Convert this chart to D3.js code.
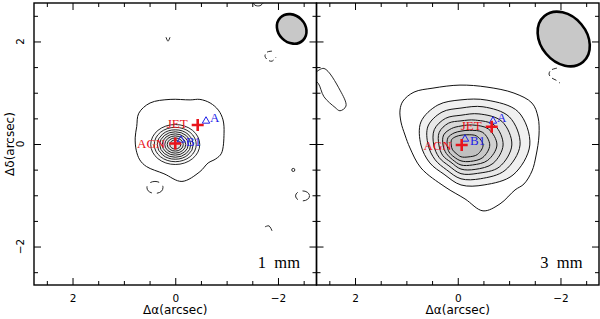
<!DOCTYPE html>
<html>
<head>
<meta charset="utf-8">
<script src="https://cdn.jsdelivr.net/npm/d3@7"></script>
<style>
  body { margin: 0; background: #fff; }
</style>
</head>
<body>
<div id="chart"></div>
<script>
//////////DATA (arcsec)//////////
const axisDomain = [2.75, -2.75];
const majorTicks = [2, 0, -2];
const minorTicks = [2.5, 1.5, 1, 0.5, -0.5, -1, -1.5, -2.5];
const panelLabels = ["1 mm", "3 mm"];

// 1 mm : lowest contour, traced
const mm1Outer = [
  [0.75, 0.34], [0.78, 0.12], [0.76, -0.12], [0.69, -0.31], [0.56, -0.44],
  [0.22, -0.58], [-0.13, -0.73], [-0.48, -0.54], [-0.64, -0.37], [-0.79, -0.29],
  [-0.9, -0.18], [-0.95, 0.21], [-0.93, 0.47], [-0.84, 0.66], [-0.68, 0.8],
  [-0.48, 0.87], [-0.29, 0.86], [0.1, 0.87], [0.49, 0.8], [0.71, 0.6],
];
// 1 mm : compact core, near-elliptical rings
const mm1Center = [0.0, -0.01];
const mm1RingRx = [0.477, 0.409, 0.35, 0.302, 0.253, 0.204, 0.156, 0.107];
const mm1RingRy = [0.39, 0.335, 0.287, 0.248, 0.207, 0.168, 0.128, 0.088];
const mm1RingFill = ["#fafafa", "#f6f6f6", "#f2f2f2", "#eeeeee", "#eaeaea", "#e6e6e6", "#e2e2e2", "#dedede"];

// 3 mm : lowest contour, traced
const mm3Outer = [
  [1.124, 0.662], [1.105, 0.428], [1.027, 0.175], [0.93, -0.078], [0.716, -0.467],
  [0.248, -0.837], [-0.141, -1.071], [-0.492, -1.304], [-0.823, -1.168], [-1.115, -0.896],
  [-1.29, -0.779], [-1.446, -0.526], [-1.523, -0.234], [-1.582, 0.175], [-1.563, 0.526],
  [-1.446, 0.798], [-1.095, 0.993], [-0.569, 1.11], [-0.044, 1.149], [0.482, 1.09],
  [0.852, 1.012], [1.066, 0.837],
];
// 3 mm : inner contours as radii (arcsec) at fixed bearings from a centre
const mm3Center = [-0.063, -0.019];
const mm3Bearings = [0, 30, 60, 90, 120, 150, 180, 210, 240, 270, 300, 330];
const mm3Radii = [
  [1.34, 1.29, 1.01, 0.88, 0.9, 0.9, 0.78, 0.7, 0.66, 0.78, 0.9, 1.17],
  [1.15, 1.09, 0.86, 0.72, 0.74, 0.74, 0.64, 0.58, 0.56, 0.66, 0.76, 0.99],
  [0.99, 0.92, 0.7, 0.58, 0.6, 0.6, 0.53, 0.49, 0.47, 0.56, 0.64, 0.86],
  [0.82, 0.76, 0.56, 0.47, 0.49, 0.49, 0.43, 0.41, 0.39, 0.47, 0.55, 0.72],
  [0.7, 0.62, 0.45, 0.37, 0.37, 0.39, 0.35, 0.33, 0.33, 0.39, 0.45, 0.6],
  [0.56, 0.49, 0.33, 0.27, 0.27, 0.29, 0.27, 0.27, 0.27, 0.31, 0.37, 0.49],
  [0.43, 0.35, 0.23, 0.19, 0.19, 0.21, 0.19, 0.19, 0.19, 0.23, 0.27, 0.37],
];
const mm3Fill = ["#f0f0f0", "#e8e8e8", "#e0e0e0", "#d8d8d8", "#d0d0d0", "#c8c8c8", "#c0c0c0"];

// extra small contours [points, dashed]
const mm1Extra = [
  [[[0.18, 2.083], [0.141, 2.005], [0.102, 2.083]], false],
  [[[-1.514, 2.765], [-1.553, 2.706], [-1.65, 2.697], [-1.708, 2.745]], false],
  [[[-1.884, 1.811], [-1.786, 1.791], [-1.747, 1.713], [-1.806, 1.635], [-1.884, 1.616], [-1.962, 1.694]], true],
  [[[-1.747, -1.616], [-1.825, -1.597], [-1.884, -1.694]], false],
];
const mm3Extra = [
  [[[2.76, 1.4], [2.604, 1.474], [2.293, 1.051], [2.176, 0.74], [2.293, 0.648],
    [2.391, 0.715], [2.604, 0.921], [2.715, 1.182], [2.8, 1.25]], false],
  [[[-1.932, 1.48], [-1.816, 1.441], [-1.777, 1.363], [-1.835, 1.285], [-1.913, 1.246], [-1.991, 1.187]], true],
];
// small dashed/closed blobs [alpha, delta, rx, ry, dashed]
const mm1Blobs = [
  [0.395, -0.847, 0.156, 0.117, true],
  [-2.478, -1.012, 0.136, 0.097, true],
  [-2.298, -0.506, 0.03, 0.03, false],
];

// beams [alpha, delta, semi-major, semi-minor, angle]
const beams = [
  [-2.267, 2.245, 0.312, 0.263, 45],
  [-2.063, 2.048, 0.584, 0.448, 50],
];

// markers per panel
const agnPos = [[0.0, 0.01], [-0.077, -0.02]];
const jetPos = [[-0.437, 0.37], [-0.661, 0.337]];
const aPos = [[-0.599, 0.448], [-0.686, 0.448]];
const b1Pos = [[-0.11, 0.078], [-0.141, 0.097]];

//////////LAYOUT//////////
const svgObj = { width: 600, height: 319 };
const panelObj = { top: 3, bottom: 285, edges: [[34, 316.5], [316.5, 599]] };
const red = "#e8141c";
const blue = "#2222e8";
const sans = "DejaVu Sans, sans-serif";
const serif = "Liberation Serif, DejaVu Serif, serif";

const svg = d3
  .select("#chart")
  .append("svg")
  .attr("width", svgObj.width)
  .attr("height", svgObj.height)
  .style("background", "#fff")
  .style("font-family", sans);

const fmt = (d) => (d < 0 ? "\u2212" + Math.abs(d) : d);

const drawPanel = (p) => {
  const [x0, x1] = panelObj.edges[p];
  const x = d3.scaleLinear().domain(axisDomain).range([x0, x1]);
  const y = d3.scaleLinear().domain(axisDomain).range([panelObj.top, panelObj.bottom]);
  const sx = (v) => Math.abs(x(v) - x(0));
  const sy = (v) => Math.abs(y(v) - y(0));

  svg
    .append("clipPath")
    .attr("id", `clip${p}`)
    .append("rect")
    .attr("x", x0)
    .attr("y", panelObj.top)
    .attr("width", x1 - x0)
    .attr("height", panelObj.bottom - panelObj.top);

  const g = svg.append("g").attr("clip-path", `url(#clip${p})`);

  const closed = d3
    .line()
    .x((d) => x(d[0]))
    .y((d) => y(d[1]))
    .curve(d3.curveCatmullRomClosed.alpha(0.5));
  const open = d3
    .line()
    .x((d) => x(d[0]))
    .y((d) => y(d[1]))
    .curve(d3.curveCatmullRom.alpha(0.5));

  if (p === 0) {
    g.append("path")
      .attr("d", closed(mm1Outer))
      .attr("fill", "none")
      .attr("stroke", "#111")
      .attr("stroke-width", 1);
    mm1RingRx.forEach((rx, i) => {
      g.append("ellipse")
        .attr("cx", x(mm1Center[0]))
        .attr("cy", y(mm1Center[1]))
        .attr("rx", sx(rx))
        .attr("ry", sy(mm1RingRy[i]))
        .attr("fill", mm1RingFill[i])
        .attr("stroke", "#111")
        .attr("stroke-width", 0.9);
    });
    mm1Blobs.forEach((b) => {
      g.append("ellipse")
        .attr("cx", x(b[0]))
        .attr("cy", y(b[1]))
        .attr("rx", sx(b[2]))
        .attr("ry", sy(b[3]))
        .attr("fill", "none")
        .attr("stroke", "#111")
        .attr("stroke-width", 0.9)
        .attr("stroke-dasharray", b[4] ? "9,5" : null);
    });
  } else {
    g.append("path")
      .attr("d", closed(mm3Outer))
      .attr("fill", "none")
      .attr("stroke", "#111")
      .attr("stroke-width", 1);
    mm3Radii.forEach((radii, k) => {
      const pts = mm3Bearings.map((b, i) => [
        mm3Center[0] - radii[i] * Math.cos((b * Math.PI) / 180),
        mm3Center[1] + radii[i] * Math.sin((b * Math.PI) / 180),
      ]);
      g.append("path")
        .attr("d", closed(pts))
        .attr("fill", mm3Fill[k])
        .attr("stroke", "#111")
        .attr("stroke-width", 1);
    });
  }

  (p === 0 ? mm1Extra : mm3Extra).forEach(([pts, dashed]) => {
    g.append("path")
      .attr("d", open(pts))
      .attr("fill", "none")
      .attr("stroke", "#111")
      .attr("stroke-width", 0.9)
      .attr("stroke-dasharray", dashed ? "5,3" : null);
  });

  // beam
  const bm = beams[p];
  g.append("ellipse")
    .attr("cx", 0)
    .attr("cy", 0)
    .attr("rx", sx(bm[2]))
    .attr("ry", sy(bm[3]))
    .attr("transform", `translate(${x(bm[0])},${y(bm[1])}) rotate(${bm[4]})`)
    .attr("fill", "#c8c8c8")
    .attr("stroke", "#000")
    .attr("stroke-width", 2.6);

  // markers
  const crossAt = (pos) =>
    g.append("path")
      .attr("d", "M-6,0H6M0,-6V6")
      .attr("transform", `translate(${x(pos[0])},${y(pos[1])})`)
      .attr("stroke", red)
      .attr("stroke-width", 2.6);
  const triAt = (pos) =>
    g.append("path")
      .attr("d", d3.symbol(d3.symbolTriangle, 24)())
      .attr("transform", `translate(${x(pos[0])},${y(pos[1])})`)
      .attr("fill", "none")
      .attr("stroke", blue)
      .attr("stroke-width", 1);
  const label = (pos, txt, dx, dy, color, anchor) =>
    g.append("text")
      .attr("x", x(pos[0]) + dx)
      .attr("y", y(pos[1]) + dy)
      .attr("text-anchor", anchor)
      .attr("fill", color)
      .style("font-family", serif)
      .attr("font-size", 13)
      .text(txt);

  triAt(b1Pos[p]);
  triAt(aPos[p]);
  crossAt(agnPos[p]);
  crossAt(jetPos[p]);
  label(agnPos[p], "AGN", -10, 5, red, "end");
  label(jetPos[p], "JET", -10, 3, red, "end");
  label(aPos[p], "A", 4, 1, blue, "start");
  label(b1Pos[p], "B1", 5, 6, blue, "start");

  svg.append("text")
    .attr("x", x1 - 16.5)
    .attr("y", 268)
    .attr("text-anchor", "end")
    .style("font-family", serif)
    .attr("font-size", 16.5)
    .text(panelLabels[p].replace(" ", "\u2002"));

  // frame + ticks
  svg.append("rect")
    .attr("x", x0)
    .attr("y", panelObj.top)
    .attr("width", x1 - x0)
    .attr("height", panelObj.bottom - panelObj.top)
    .attr("fill", "none")
    .attr("stroke", "#000")
    .attr("stroke-width", 1.4);

  const axes = [
    [d3.axisBottom(x), `translate(0,${panelObj.bottom})`],
    [d3.axisTop(x), `translate(0,${panelObj.top})`],
    [d3.axisLeft(y), `translate(${x0},0)`],
    [d3.axisRight(y), `translate(${x1},0)`],
  ];
  axes.forEach(([ax, tr], i) => {
    [[majorTicks, 7], [minorTicks, 4]].forEach(([vals, len]) => {
      const a = svg
        .append("g")
        .attr("transform", tr)
        .call(ax.tickValues(vals).tickSize(-len).tickPadding(10).tickFormat(i === 0 && len === 7 ? fmt : ""));
      a.select(".domain").remove();
      a.selectAll("line").attr("stroke", "#000").attr("stroke-width", 1);
      a.selectAll("text")
        .attr("font-family", sans)
        .attr("font-size", 10.5)
        .attr("fill", "#000");
    });
  });

  if (p === 0) {
    majorTicks.forEach((v) => {
      svg.append("text")
        .attr("transform", `translate(24,${y(v)}) rotate(-90)`)
        .attr("text-anchor", "middle")
        .attr("font-size", 10.5)
        .text(fmt(v));
    });
    svg.append("text")
      .attr("transform", `translate(14,${y(0)}) rotate(-90)`)
      .attr("text-anchor", "middle")
      .attr("font-size", 12)
      .text("\u0394\u03b4(arcsec)");
  }
  svg.append("text")
    .attr("x", x(0))
    .attr("y", 314)
    .attr("text-anchor", "middle")
    .attr("font-size", 12)
    .text("\u0394\u03b1(arcsec)");
};

drawPanel(0);
drawPanel(1);
</script>
</body>
</html>
